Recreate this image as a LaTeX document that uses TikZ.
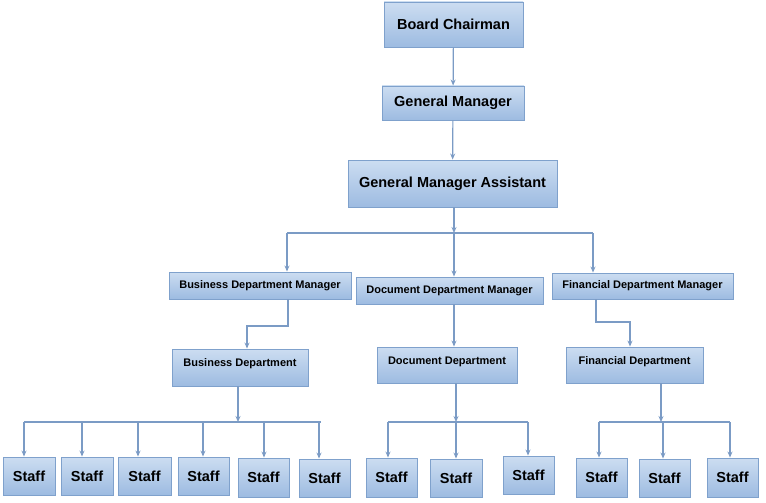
\documentclass[tikz,border=0pt]{standalone}
\usepackage{fontspec}
\setmainfont{Liberation Sans}
\usetikzlibrary{arrows.meta}
\definecolor{boxtop}{HTML}{CCDDF1}
\definecolor{boxbot}{HTML}{9DBBE1}
\definecolor{boxline}{HTML}{7FA1CC}
\definecolor{conn}{HTML}{7B9BC5}
\tikzset{
  box/.style={draw=boxline, line width=0.9pt, top color=boxtop, bottom color=boxbot,
    inner sep=0pt, font=\bfseries, text=black, anchor=center},
  big/.style={box, font=\fontsize{14.5}{16}\selectfont\bfseries},
  mid/.style={box, font=\fontsize{11}{13}\selectfont\bfseries},
  dept/.style={mid, text height=17pt, text depth=19pt},
  staff/.style={big},
  arr/.style={draw=conn, line width=1.2pt, -{Stealth[length=6pt,width=5pt]}},
  ln/.style={draw=conn, line width=1.2pt}
}
\begin{document}
\begin{tikzpicture}[x=1pt,y=-1pt]
\useasboundingbox (0,0) rectangle (766,503);
% top
\node[big, minimum width=139pt, minimum height=45pt] (bc) at (453.5,24.5) {Board Chairman};
\node[big, minimum width=142pt, minimum height=34pt] (gm) at (453,103) {General Manager};
\node[big, minimum width=209pt, minimum height=47pt] (gma) at (452.5,183.5) {General Manager Assistant};
% managers
\node[mid, minimum width=182pt, minimum height=27pt] (bdm) at (260,285.5) {Business Department Manager};
\node[mid, minimum width=187pt, minimum height=27pt] (ddm) at (449.5,290.5) {Document Department Manager};
\node[mid, minimum width=181pt, minimum height=26pt] (fdm) at (642.5,286) {Financial Department Manager};
% departments
\node[dept, text depth=20pt, minimum width=136pt] (bd) at (240,367.5) {Business Department};
\node[dept, minimum width=140pt] (dd) at (447,365) {Document Department};
\node[dept, minimum width=137pt] (fd) at (634.5,365) {Financial Department};
% staff
\node[staff, minimum width=52pt, minimum height=38pt] (s1) at (29,476) {Staff};
\node[staff, minimum width=52pt, minimum height=38pt] (s2) at (87,476) {Staff};
\node[staff, minimum width=53pt, minimum height=38pt] (s3) at (144.5,476) {Staff};
\node[staff, minimum width=51pt, minimum height=38pt] (s4) at (203.5,476) {Staff};
\node[staff, minimum width=51pt, minimum height=39pt] (s5) at (263.5,477.5) {Staff};
\node[staff, minimum width=51pt, minimum height=38pt] (s6) at (324.5,478) {Staff};
\node[staff, minimum width=51pt, minimum height=39pt] (s7) at (391.5,477.5) {Staff};
\node[staff, minimum width=52pt, minimum height=38pt] (s8) at (456,478) {Staff};
\node[staff, minimum width=51pt, minimum height=38pt] (s9) at (528.5,475) {Staff};
\node[staff, minimum width=51pt, minimum height=39pt] (s10) at (601.5,477.5) {Staff};
\node[staff, minimum width=51pt, minimum height=38pt] (s11) at (664.5,478) {Staff};
\node[staff, minimum width=51pt, minimum height=39pt] (s12) at (732.5,477.5) {Staff};
% junction coordinates
\coordinate (j1) at (454,233);
\coordinate (j1l) at (287,233);
\coordinate (j1r) at (593,233);
\coordinate (k1) at (288,326);
\coordinate (k1b) at (247,326);
\coordinate (k2) at (454,300);
\coordinate (k3) at (596,322);
\coordinate (k3b) at (630,322);
\coordinate (j2) at (238,422);
\coordinate (j2l) at (24,422);
\coordinate (j2r) at (321,422);
\coordinate (j3) at (456,422);
\coordinate (j3l) at (388,422);
\coordinate (j3r) at (528,422);
\coordinate (j4) at (661,422);
\coordinate (j4l) at (599,422);
\coordinate (j4r) at (730,422);
% connectors top
\draw[arr] (bc) -- (gm);
\draw[arr] (gm) -- (gma);
\draw[arr] (j1 |- gma.south) -- (j1);
\draw[ln] (j1l) -- (j1r);
\draw[arr] (j1l) -- (j1l |- bdm.north);
\draw[arr] (j1) -- (j1 |- ddm.north);
\draw[arr] (j1r) -- (j1r |- fdm.north);
% managers to departments
\draw[arr] (k1 |- bdm.south) -- (k1) -- (k1b) -- (k1b |- bd.north);
\draw[arr] (k2 |- ddm.south) -- (k2 |- dd.north);
\draw[arr] (k3 |- fdm.south) -- (k3) -- (k3b) -- (k3b |- fd.north);
% departments to staff
\draw[arr] (j2 |- bd.south) -- (j2);
\draw[ln] (j2l) -- (j2r);
\draw[arr] (j2l) -- (j2l |- s1.north);
\draw[arr] (j2l -| 82,0) -- (82,0 |- s2.north);
\draw[arr] (j2l -| 138,0) -- (138,0 |- s3.north);
\draw[arr] (j2l -| 203,0) -- (203,0 |- s4.north);
\draw[arr] (j2l -| 264,0) -- (264,0 |- s5.north);
\draw[arr] (j2r -| 319,0) -- (319,0 |- s6.north);
\draw[arr] (j3 |- dd.south) -- (j3);
\draw[ln] (j3l) -- (j3r);
\draw[arr] (j3l) -- (j3l |- s7.north);
\draw[arr] (j3) -- (j3 |- s8.north);
\draw[arr] (j3r) -- (j3r |- s9.north);
\draw[arr] (j4 |- fd.south) -- (j4);
\draw[ln] (j4l) -- (j4r);
\draw[arr] (j4l) -- (j4l |- s10.north);
\draw[arr] (j4l -| 663,0) -- (663,0 |- s11.north);
\draw[arr] (j4r) -- (j4r |- s12.north);
\end{tikzpicture}
\end{document}
